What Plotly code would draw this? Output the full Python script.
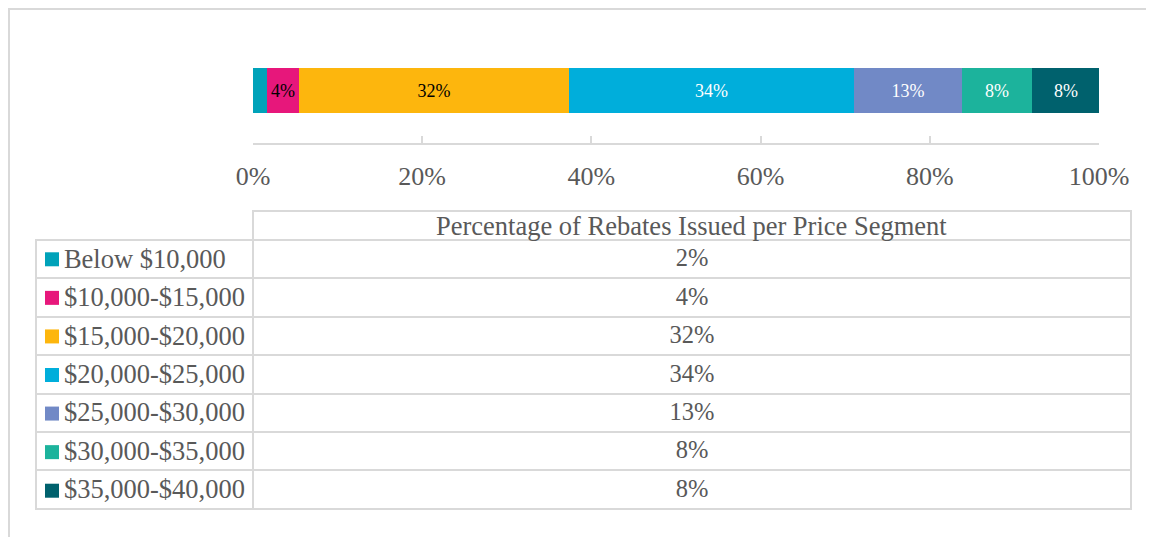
import plotly.graph_objects as go

W, H = 1154, 537
OFF = 8  # page body margin of the viewer

segments = ["Below $10,000", "$10,000-$15,000", "$15,000-$20,000", "$20,000-$25,000",
            "$25,000-$30,000", "$30,000-$35,000", "$35,000-$40,000"]
shares = [1.7, 3.7, 31.9, 33.7, 12.8, 8.3, 8.0]
colors = ["#00A2B9", "#E7177B", "#FDB60D", "#00AEDB", "#7189C6", "#1CB39C", "#00616D"]
label_colors = ["#000000", "#000000", "#000000", "#FFFFFF", "#FFFFFF", "#FFFFFF", "#FFFFFF"]
table_header = "Percentage of Rebates Issued per Price Segment"
x_ticks = [0, 20, 40, 60, 80, 100]

FONT = "Liberation Serif, Times New Roman, serif"
GRAY = "#595959"
LINE = "#D9D9D9"

def px_x(p):
    return (p - OFF) / W

def px_y(p):
    return 1 - (p - OFF) / H

fig = go.Figure()

for name, v, c, lc in zip(segments, shares, colors, label_colors):
    fig.add_trace(go.Bar(
        y=["Rebates"], x=[v], name=name, orientation="h",
        marker=dict(color=c, line=dict(width=0)),
        text=[f"{round(v)}%" if v >= 3 else ""],
        textposition="inside", insidetextanchor="middle", textangle=0,
        insidetextfont=dict(family=FONT, size=18, color=lc),
        constraintext="none",
        showlegend=False, hoverinfo="skip",
    ))

rounded = [f"{round(v)}%" for v in shares]
left_cells = ["\u00a0\u00a0\u00a0" + s for s in segments]

fig.add_trace(go.Table(
    domain=dict(x=[px_x(36), px_x(1131)], y=[px_y(511), px_y(211)]),
    columnwidth=[217, 878],
    header=dict(
        values=["", ""],
        height=29,
        fill=dict(color="rgba(0,0,0,0)"),
        line=dict(color=["rgba(0,0,0,0)", LINE], width=2),
        font=dict(family=FONT, size=12, color=GRAY),
    ),
    cells=dict(
        values=[left_cells, rounded],
        height=38.4,
        align=["left", "center"],
        fill=dict(color="rgba(0,0,0,0)"),
        line=dict(color=LINE, width=2),
        font=dict(family=FONT, size=[26.5, 24.5], color=GRAY),
    ),
))

# legend keys in the table's first column
fig.add_trace(go.Scatter(
    x=[0.5] * len(segments), y=segments, mode="markers",
    marker=dict(symbol="square", size=14, color=colors, line=dict(width=0)),
    xaxis="x2", yaxis="y2", showlegend=False, hoverinfo="skip",
))

fig.update_layout(
    width=W, height=H,
    margin=dict(l=0, r=0, t=0, b=0, autoexpand=False),
    paper_bgcolor="white", plot_bgcolor="rgba(0,0,0,0)",
    barmode="stack", bargap=0,
    xaxis=dict(
        domain=[px_x(253), px_x(1099)], range=[0, 100],
        tickvals=x_ticks, ticktext=[f"{t}%" for t in x_ticks],
        anchor="free", position=px_y(144),
        showline=True, linecolor=LINE, linewidth=2,
        ticks="inside", ticklen=7, tickwidth=2, tickcolor=LINE,
        showgrid=False, zeroline=False, automargin=False,
        tickfont=dict(family=FONT, size=26, color=GRAY),
        ticklabelstandoff=9,
        fixedrange=True,
    ),
    yaxis=dict(
        domain=[px_y(113), px_y(68)], range=[-0.5, 0.5],
        showticklabels=False, showgrid=False, zeroline=False, showline=False,
        automargin=False, fixedrange=True,
    ),
    xaxis2=dict(
        domain=[px_x(45), px_x(59)], range=[0, 1], visible=False,
        automargin=False, fixedrange=True,
    ),
    yaxis2=dict(
        domain=[px_y(510), px_y(240)], range=[6.5, -0.5], visible=False,
        type="category", categoryorder="array", categoryarray=segments,
        automargin=False, fixedrange=True,
    ),
    annotations=[dict(
        text=table_header, xref="paper", yref="paper",
        x=px_x(691), y=px_y(226), xanchor="center", yanchor="middle",
        showarrow=False, font=dict(family=FONT, size=26.5, color=GRAY),
    )],
    shapes=[dict(type="rect", xref="paper", yref="paper",
                 x0=1 / W, x1=1.02, y0=-0.05, y1=1 - 1 / H,
                 line=dict(color=LINE, width=2), layer="below")],
)

fig.write_html("out.html")
